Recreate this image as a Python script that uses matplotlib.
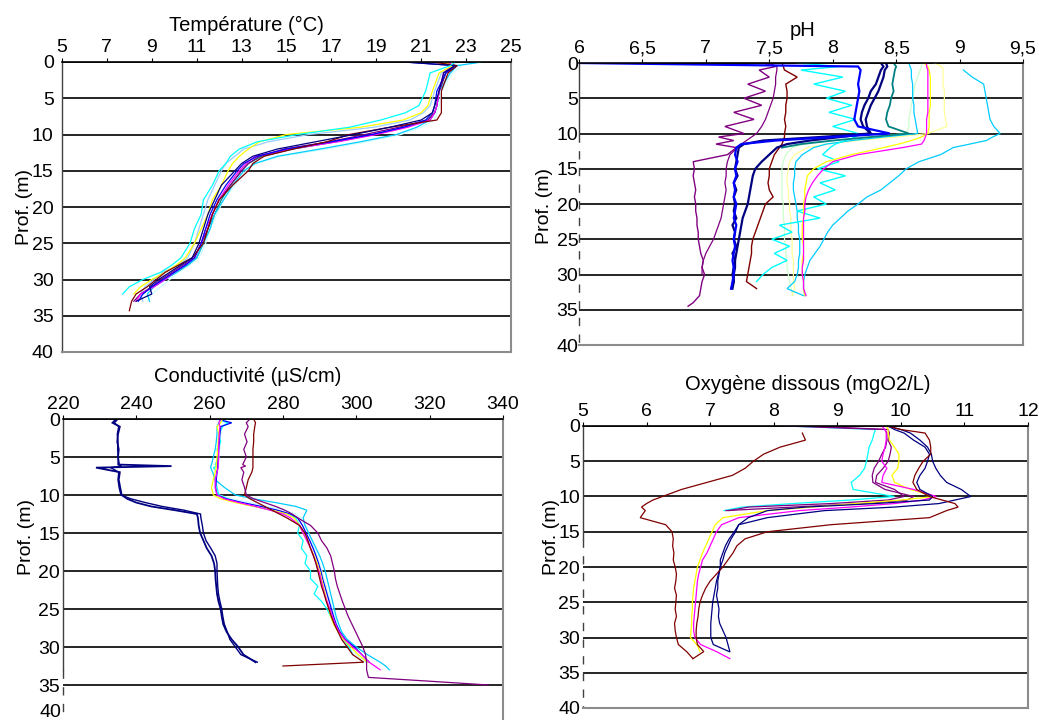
import numpy as np
import matplotlib
matplotlib.use('Agg')
import matplotlib.pyplot as plt
from matplotlib.ticker import FuncFormatter

nan = np.nan

# ---------------- Temperature (°C) ----------------
TEMP_DEPTH = [0, 0.5, 1.5, 4, 6, 7, 8, 9, 10, 11, 12, 13, 14, 15,
              17, 19, 21, 23, 25, 27, 28, 29, 30, 31, 32, 33, 34.3]
TEMP_TICKS = [5, 7, 9, 11, 13, 15, 17, 19, 21, 23, 25]

T_NAVY = [20.3, 22.5, 22.0, 21.8, 21.6, 21.5, 21.0, 19.6, 18.0, 16.3, 14.6, 13.5, 13.0, 12.7,
          12.1, 11.8, 11.5, 11.3, 11.1, 10.8, 10.3, 9.8, 9.3, 8.9, 9.0, 8.3]
T_MAROON = [21.5, 22.6, 22.2, 21.9, 21.9, 21.9, 21.7, 19.6, 17.8, 16.8, 15.3, 14.0, 13.5, 13.3,
            12.6, 12.0, 11.7, 11.5, 11.3, 10.8, 10.2, 9.6, 9.2, 8.8, 8.3, 8.1, 8.0]
T_CYAN = [22.5, 22.3, 21.4, 21.2, 20.9, 20.3, 19.2, 17.8, 15.5, 13.7, 12.9, 12.5, 12.3, 12.0,
          11.7, 11.3, 11.2, 10.9, 10.7, 10.3, 9.9, 9.4, 8.6, 8.0, 7.7]
T_YELLOW = [22.0, 22.4, 21.8, 21.5, 21.3, 21.0, 20.2, 18.3, 15.0, 13.8, 13.3, 12.9, 12.6, 12.4,
            12.1, 11.7, 11.5, 11.2, 10.9, 10.5, 10.1, 9.6, 9.0, 8.5, 8.2]
T_LIGHTBLUE = [21.8, 22.5, 21.9, 21.6, 21.4, 21.1, 20.5, 18.9, 16.0, 14.2, 13.1, 12.7, 12.3, 12.1,
               11.8, 11.5, 11.3, 11.1, 10.9, 10.6, 10.2, 9.5, 9.1, 8.7, 8.5, 8.6]
T_BLUE = [20.2, 22.6, 22.1, 21.7, 21.6, 21.5, 21.2, 20.2, 18.8, 17.0, 15.0, 13.7, 13.1, 12.8,
          12.3, 11.9, 11.6, 11.4, 11.2, 10.9, 10.5, 10.0, 9.5, 9.0, 8.6, 8.4]
T_MAGENTA = [22.2, 22.4, 22.0, 21.8, 21.7, 21.6, 21.4, 20.4, 19.0, 17.3, 15.2, 13.6, 13.2, 12.9,
             12.4, 12.0, 11.7, 11.4, 11.2, 10.9, 10.5, 10.0, 9.6, 9.1, 8.5, 8.3]
T_PURPLE = [22.0, 22.5, 22.1, 21.8, 21.7, 21.6, 21.3, 20.0, 18.5, 16.9, 14.9, 13.8, 13.3, 13.0,
            12.5, 12.0, 11.7, 11.5, 11.2, 10.9, 10.4, 9.9, 9.4, 9.0, 8.5, 8.2]
T_TEAL = [21.9, 22.4, 22.1, 21.8, 21.7, 21.6, 21.3, 20.3, 18.9, 17.2, 15.3, 13.9, 13.3, 13.0,
          12.5, 12.1, 11.8, 11.5, 11.3, 11.0, 10.6, 10.1, 9.5, 9.0, 8.6]
T_SKYBLUE = [23.7, 22.6, 22.3, 21.8, 21.7, 21.6, 21.4, 20.8, 19.9, 18.3, 16.5, 14.6, 13.6, 13.1,
             12.6, 12.2, 11.8, 11.6, 11.3, 11.0, 10.6, 10.1, 9.6, 9.1, 8.8, 8.9]
T_LIGHTCYAN = [22.3, 22.8, 22.4, 21.9, 21.8, 21.7, 21.6, 21.0, 20.1, 18.6, 16.8, 14.8, 13.6, 13.2,
               12.7, 12.2, 11.9, 11.6, 11.4, 11.1, 10.7, 10.2, 9.8, 9.4, 9.0, 8.8]

# ---------------- pH ----------------
PH_DEPTH = [0, 0.5, 1, 2, 3, 4, 5,
            6, 7, 8, 9, 10,
            10.5, 11, 11.5, 12,
            13, 14, 15, 16, 17, 18, 19, 20,
            21, 22, 23, 24, 25, 26, 27, 28, 29, 30,
            31, 32, 33, 34, 34.5]
PH_TICKS = [6, 6.5, 7, 7.5, 8, 8.5, 9, 9.5]

PH_PURPLE_NOISY = [7.45, 7.55, 7.42, 7.5, 7.33, 7.47, 7.3,
                   7.44, 7.22, 7.38, 7.15, 7.3,
                   7.1, 7.22, 7.08, 7.24,
                   7.17, 6.9, 6.91, 6.9, 6.91, 6.92, 6.91, 6.92,
                   6.92, 6.93, 6.93, 6.94, 6.94, 6.95, 6.96, 6.98, 6.97, 6.99,
                   6.97, 6.96, 6.95, 6.9, 6.86]
PH_PURPLE = [7.5, 7.56, 7.56, 7.55, 7.55, 7.54, 7.53,
             7.51, 7.49, 7.47, 7.44, 7.4,
             7.36, 7.32, 7.28, 7.25,
             7.19, 7.17, 7.16, 7.16, 7.15, 7.16, 7.15, 7.14,
             7.13, 7.12, 7.1, 7.08, 7.06, 7.03, 7.0, 6.98, 6.97, 6.97]
PH_MAROON = [7.6, 7.61, 7.62, 7.72, 7.63, 7.64, 7.64,
             7.63, 7.63, 7.62, 7.63, 7.62,
             7.62, 7.61, 7.6, 7.58,
             7.54, 7.52, 7.5, 7.5, 7.49, 7.5, 7.53, 7.47,
             7.45, 7.43, 7.41, 7.39, 7.37, 7.36, 7.36, 7.35, 7.34, 7.33,
             7.32, 7.4]
PH_NAVY = [8.38, 8.4, 8.38, 8.36, 8.34, 8.3, 8.28,
           8.25, 8.23, 8.22, 8.24, 8.3,
           7.9, 7.45, 7.3, 7.26,
           7.25, 7.24, 7.23, 7.25, 7.22, 7.24, 7.22, 7.23,
           7.22, 7.24, 7.21, 7.23, 7.22, 7.24, 7.21, 7.23, 7.22, 7.21,
           7.22, 7.2]
PH_NAVY_2 = [8.42, 8.43, 8.41, 8.4, 8.38, 8.36, 8.33,
             8.3, 8.28, 8.26, 8.27, 8.3,
             8.06, 7.82, 7.64, 7.56,
             7.5, 7.44, 7.39, 7.37, 7.36, 7.35, 7.34, 7.33,
             7.31, 7.29, 7.28, 7.27, 7.26, 7.25, 7.24, 7.23, 7.23, 7.22,
             7.22, 7.21]
PH_BLUE = [6.0, 8.2, 8.22, 8.21, 8.2, 8.21, 8.2,
           8.19, 8.18, 8.17, 8.2, 8.45,
           8.0, 7.55, 7.28, 7.24,
           7.23, 7.25, 7.23, 7.24, 7.22, 7.23, 7.22, 7.24,
           7.23, 7.22, 7.24, 7.23, 7.22, 7.23, 7.22, 7.21, 7.22, 7.22,
           7.21, 7.2]
PH_CYAN = [7.72, 8.05, 7.75, 8.08, 7.85, 8.1, 7.95,
           8.15, 7.97, 8.18, 8.0, 8.2,
           8.18, 8.1, 8.02, 7.98,
           7.92, 8.05, 7.88, 8.1, 7.9, 8.02, 7.85, 7.95,
           7.72, 7.9, 7.58, 7.68, 7.52, 7.66, 7.54, 7.64, 7.52, 7.45,
           7.4]
PH_SKYBLUE = [nan, nan, 9.03, 9.1, 9.19, 9.2, 9.21,
              9.22, 9.23, 9.24, 9.27, 9.32,
              9.26, 9.21, 9.08, 8.95,
              8.85, 8.68, 8.58, 8.52, 8.45, 8.38, 8.27, 8.2,
              8.12, 8.06, 8.0, 7.96, 7.93, 7.9, 7.86, 7.82, 7.8, 7.78,
              7.77, 7.77, 7.78]
PH_SKYBLUE_2 = [8.6, 8.61, 8.62, 8.62, 8.63, 8.63, 8.63,
                8.64, 8.64, 8.65, 8.66, 8.67,
                8.4, 8.15, 7.95, 7.85,
                7.76, 7.71, 7.7, 7.7, 7.69, 7.69, 7.7, 7.71,
                7.72, 7.72, 7.73, 7.73, 7.74, 7.74, 7.74, 7.73, 7.73, 7.72,
                7.7, 7.64, 7.77]
PH_TEAL = [8.48, 8.5, 8.49, 8.48, 8.47, 8.48, 8.46,
           8.45, 8.43, 8.42, 8.44, 8.6,
           8.3, 8.0, 7.75, 7.6]
PH_LIGHTGREEN = [8.7, 8.7, 8.69, 8.67, 8.65, 8.64, 8.63,
                 8.62, 8.61, 8.6, 8.6, 8.58,
                 8.3, 8.0, 7.78, 7.68,
                 7.63, 7.61, 7.6, 7.6, 7.6, 7.6, 7.6, 7.61,
                 7.61, 7.61, 7.62, 7.62, 7.62, 7.63, 7.63, 7.64, 7.64, 7.65,
                 7.66, 7.67, 7.69]
PH_PALEYELLOW = [8.8, 8.86, 8.87, 8.87, 8.87, 8.88, 8.88,
                 8.88, 8.88, 8.89, 8.9, 8.75,
                 8.5, 8.2, 7.95, 7.8,
                 7.7, 7.66, 7.65, 7.64, 7.64, 7.65, 7.65, 7.66,
                 7.66, 7.67, 7.67, 7.67, 7.68, 7.68, 7.68, 7.69, 7.69, 7.69,
                 7.69, 7.7, 7.68]
PH_YELLOW = [8.72, 8.75, 8.76, 8.77, 8.77, 8.77, 8.77,
             8.77, 8.76, 8.76, 8.76, 8.75,
             8.7, 8.62, 8.52, 8.4,
             8.15, 7.95, 7.85, 7.8, 7.79, 7.78, 7.78, 7.77,
             7.77, 7.77, 7.76, 7.76, 7.76, 7.77, 7.77, 7.76, 7.76, 7.76,
             7.77, 7.77, 7.78]
PH_MAGENTA = [8.74, 8.74, 8.75, 8.75, 8.75, 8.75, 8.75,
              8.75, 8.75, 8.74, 8.74, 8.74,
              8.73, 8.72, 8.7, 8.55,
              8.2, 8.0, 7.93, 7.88, 7.84, 7.81, 7.79, 7.78,
              7.78, 7.77, 7.77, 7.77, 7.77, 7.77, 7.77, 7.77, 7.76, 7.76,
              7.77, 7.77, 7.79]

# ---------------- Conductivité (µS/cm) ----------------
COND_DEPTH = [0, 0.5, 1, 2, 3, 4, 5,
              6, 6.2, 6.4, 7, 8, 9, 10,
              10.5, 11, 11.5, 12, 12.5, 13,
              14, 15, 16, 17, 18, 19, 20,
              21, 22, 23, 24, 25, 26, 27, 28, 29, 30,
              31, 32, 32.5, 33, 34, 34.5, 35]
COND_TICKS = [220, 240, 260, 280, 300, 320, 340]

C_NAVY = [234.5, 233.5, 235.5, 235.0, 234.8, 235.2, 235.0,
          235.3, 249.6, 229.0, 235.5, 235.2, 235.6, 236.0,
          237.5, 240.0, 244.0, 250.5, 256.5, 256.8,
          257.0, 257.4, 258.3, 259.2, 260.5, 261.2, 261.5,
          261.6, 261.8, 262.0, 262.4, 263.0, 263.3, 263.7, 264.6, 266.0, 267.8,
          269.2, 272.5]
C_NAVY_2 = [235.0, 234.0, 235.2, 234.8, 235.0, 234.9, 235.1,
            235.0, 236.0, 233.0, 235.2, 235.0, 235.3, 235.8,
            238.5, 242.5, 247.0, 253.0, 257.5, 257.6,
            258.0, 258.3, 259.0, 260.3, 261.5, 262.0, 262.0,
            262.1, 262.2, 262.4, 262.8, 263.3, 263.6, 264.0, 264.8, 265.5, 267.0,
            268.5, 273.0]
C_MAROON = [272.0, 272.5, 272.3, 272.0, 272.0, 271.8, 271.8,
            271.8, 271.8, 271.8, 271.5, 270.5, 270.0, 269.5,
            271.0, 273.0, 275.0, 277.0, 279.0, 281.0,
            284.5, 286.0, 286.8, 287.5, 288.3, 289.0, 289.5,
            290.0, 290.5, 291.2, 291.8, 292.5, 293.2, 294.0, 295.0, 296.0, 297.5,
            299.0, 302.0, 280.0]
C_PURPLE = [271.0, 270.0, 270.5, 269.5, 270.2, 269.3, 270.0,
            269.0, 269.8, 268.5, 269.3, 268.8, 269.5, 270.0,
            272.0, 275.0, 278.0, 280.5, 282.5, 284.0,
            287.5, 289.5, 290.5, 292.0, 293.0, 293.5, 294.0,
            294.3, 294.8, 295.5, 296.2, 297.0, 297.8, 298.8, 299.8, 300.8, 301.8,
            302.5, 302.8, 302.8, 302.8, 303.3, 320.0, 336.0]
C_CYAN = [262.0, 265.0, 263.5, 262.5, 263.0, 262.0, 262.5,
          261.5, 262.0, 261.0, 262.0, 261.5, 262.0, 262.5,
          265.0, 268.0, 272.0, 277.0, 281.0, 283.5,
          284.5, 284.0, 285.5, 285.0, 286.5, 286.0, 287.5,
          287.5, 289.5, 288.5, 290.5, 292.0, 293.0, 294.0, 295.5, 296.5, 298.0,
          299.0]
C_YELLOW = [263.5, 263.0, 262.0, 262.5, 262.3, 262.2, 262.0,
            261.8, 261.8, 261.8, 261.5, 261.0, 260.5, 261.0,
            263.0, 267.0, 272.0, 277.0, 281.0, 283.0,
            284.5, 285.5, 286.5, 287.5, 288.5, 289.3, 290.0,
            290.5, 291.0, 291.5, 292.0, 292.5, 293.0, 293.8, 295.0, 296.5, 298.5,
            300.5, 303.0]
C_MAGENTA = [263.0, 262.5, 262.8, 262.6, 262.5, 262.4, 262.5,
             262.3, 262.3, 262.3, 262.0, 261.5, 261.5, 262.0,
             264.0, 268.0, 272.5, 276.5, 280.0, 282.0,
             284.5, 285.5, 286.5, 287.5, 288.3, 289.0, 289.8,
             290.3, 290.8, 291.3, 292.0, 292.8, 293.5, 294.3, 295.3, 296.8, 299.0,
             301.5, 303.5, 305.0, 306.5]
C_SKYBLUE = [263.0, 262.5, 262.0, 262.0, 261.8, 261.5, 261.0,
             260.5, 260.3, 260.3, 260.8, 261.5, 264.0, 267.0,
             272.0, 278.0, 283.5, 286.5, 286.0, 285.5,
             286.0, 287.0, 288.0, 289.0, 290.0, 290.8, 291.5,
             292.0, 292.5, 293.0, 293.5, 294.0, 294.5, 295.2, 296.0, 297.5, 300.0,
             303.0, 306.5, 308.0, 309.0]
C_LIGHTCYAN = [265.0, 264.0, 263.5, 263.0, 263.0, 262.8, 262.5,
               262.5, 262.5, 262.5, 262.0, 261.5, 261.5, 262.5,
               266.0, 271.0, 276.0, 280.5, 283.5, 285.0,
               286.0, 287.0, 287.8, 288.5, 289.3, 290.0, 290.6,
               291.2, 291.8, 292.4, 293.0, 293.6, 294.2, 294.8, 295.5, 296.5, 298.0,
               300.0, 302.5]
C_BLUE = [262.0, 266.0, 263.0, 262.8, 262.6, 262.5, 262.3,
          262.2, 262.2, 262.2, 262.0, 261.8, 261.6, 262.0,
          264.5, 269.0, 274.0, 278.5, 282.0, 284.0,
          285.3, 286.3, 287.3, 288.2, 289.0, 289.7, 290.3,
          290.8, 291.4, 292.0, 292.6, 293.2, 293.8, 294.5, 295.5, 297.0, 299.5,
          301.5, 303.5]

# ---------------- Oxygène dissous (mgO2/L) ----------------
OX_DEPTH = [0, 0.5, 1, 2, 3, 4, 5,
            6, 7, 8, 9, 10,
            10.5, 11, 11.5, 12,
            13, 14, 15, 16, 17, 18, 19, 20,
            21, 22, 23, 24, 25, 26, 27, 28, 29, 30,
            31, 32, 33]
OX_TICKS = [5, 6, 7, 8, 9, 10, 11, 12]

O_MAROON = [nan, nan, 8.45, 8.5, 8.1, 7.84, 7.68,
            7.55, 7.35, 6.95, 6.55, 6.25,
            6.1, 6.0, 5.92, 5.98,
            5.9, 6.3, 6.4, 6.42, 6.41, 6.43, 6.42, 6.45,
            6.47, 6.46, 6.44, 6.47, 6.46, 6.45, 6.47, 6.44, 6.45, 6.47,
            6.5, 6.63, 6.73]
O_MAROON_2 = [9.8, 10.0, 10.38, 10.45, 10.47, 10.47, 10.35,
              10.28, 10.22, 10.19, 10.25, 10.45,
              10.65, 10.85, 10.9, 10.72,
              10.45, 8.9, 7.9, 7.55, 7.42, 7.36, 7.28, 7.2,
              7.1, 7.0, 6.93, 6.88, 6.84, 6.82, 6.81, 6.79, 6.78, 6.78,
              6.8, 6.9, 6.73]
O_NAVY = [9.77, 10.0, 10.15, 10.3, 10.42, 10.48, 10.5,
          10.55, 10.62, 10.72, 10.95, 11.1,
          10.85, 10.6, 9.9, 8.8,
          7.9, 7.45, 7.38, 7.3, 7.24, 7.2, 7.16, 7.16,
          7.14, 7.12, 7.12, 7.1, 7.12, 7.14, 7.13, 7.15, 7.2, 7.25,
          7.28, 7.31]
O_NAVY_2 = [9.8, 9.9, 10.05, 10.2, 10.38, 10.45, 10.42,
            10.38, 10.3, 10.25, 10.3, 10.5,
            10.45, 9.6, 8.5, 7.9,
            7.6, 7.45, 7.4, 7.33, 7.28, 7.23, 7.2, 7.16,
            7.13, 7.1, 7.08, 7.06, 7.04, 7.03, 7.02, 7.01, 7.01, 7.01,
            7.05, 7.3]
O_PURPLE = [8.2, 9.75, 9.78, 9.78, 9.76, 9.7, 9.65,
            9.58, 9.55, 9.56, 9.75, 10.2,
            10.1, 9.4, 8.3, 7.25]
O_PURPLE_2 = [8.5, 9.8, 9.82, 9.8, 9.85, 9.83, 9.8,
              9.72, 9.62, 9.6, 9.9, 10.05,
              9.8, 8.9, 7.6, 7.3]
O_CYAN = [8.2, 9.6, 9.58, 9.55, 9.5, 9.48, 9.46,
          9.43, 9.35, 9.22, 9.25, 9.9,
          9.2, 8.3, 7.5, 7.22]
O_YELLOW = [9.77, 9.8, 9.8, 9.82, 9.9, 9.97, 9.97,
            9.95, 9.86, 9.9, 10.15, 10.53,
            10.0, 9.3, 8.6, 7.9,
            7.2, 7.08, 7.03, 6.98, 6.93, 6.88, 6.84, 6.8,
            6.78, 6.76, 6.74, 6.73, 6.72, 6.72, 6.71, 6.71, 6.7, 6.69,
            6.79, 6.84]
O_MAGENTA = [9.7, 9.75, 9.77, 9.77, 9.75, 9.72, 9.7,
             9.78, 9.72, 9.7, 10.2, 10.56,
             10.35, 9.9, 9.2, 8.4,
             7.45, 7.18, 7.1, 7.05, 7.0, 6.95, 6.88, 6.85,
             6.82, 6.8, 6.79, 6.78, 6.77, 6.76, 6.75, 6.74, 6.74, 6.76,
             6.85, 7.1, 7.31]

# series styles: (values, colour, linewidth)
TEMP_SERIES = [(T_LIGHTCYAN, '#CCFFFF', 0.9), (T_LIGHTBLUE, '#99CCFF', 0.9),
               (T_TEAL, '#008080', 0.9), (T_SKYBLUE, '#00CCFF', 0.9),
               (T_PURPLE, '#800080', 0.9), (T_MAGENTA, '#FF00FF', 0.9),
               (T_BLUE, '#0000FF', 0.9), (T_YELLOW, '#FFFF00', 0.9),
               (T_MAROON, '#800000', 0.9), (T_NAVY, '#000080', 0.9),
               (T_CYAN, '#00FFFF', 0.9)]
PH_SERIES = [(PH_LIGHTGREEN, '#CCFFCC', 0.9), (PH_PALEYELLOW, '#FFFF99', 0.9),
             (PH_SKYBLUE_2, '#00CCFF', 0.9), (PH_SKYBLUE, '#00CCFF', 0.9),
             (PH_CYAN, '#00FFFF', 1.0), (PH_YELLOW, '#FFFF00', 0.9),
             (PH_MAGENTA, '#FF00FF', 0.9), (PH_TEAL, '#008080', 1.3),
             (PH_PURPLE, '#800080', 0.9), (PH_PURPLE_NOISY, '#800080', 1.0),
             (PH_MAROON, '#800000', 1.0), (PH_NAVY_2, '#000080', 1.6),
             (PH_NAVY, '#000080', 1.6), (PH_BLUE, '#0000FF', 1.6)]
COND_SERIES = [(C_LIGHTCYAN, '#CCFFFF', 0.9), (C_SKYBLUE, '#00CCFF', 0.9),
               (C_CYAN, '#00FFFF', 0.9), (C_BLUE, '#0000FF', 0.9),
               (C_YELLOW, '#FFFF00', 0.9), (C_MAGENTA, '#FF00FF', 0.9),
               (C_MAROON, '#800000', 0.9), (C_PURPLE, '#800080', 0.9),
               (C_NAVY_2, '#000080', 1.0), (C_NAVY, '#000080', 1.3)]
OX_SERIES = [(O_CYAN, '#00FFFF', 0.9), (O_PURPLE_2, '#800080', 0.9),
             (O_PURPLE, '#800080', 0.9), (O_YELLOW, '#FFFF00', 0.9),
             (O_MAGENTA, '#FF00FF', 0.9), (O_NAVY_2, '#000080', 0.9),
             (O_NAVY, '#000080', 0.9), (O_MAROON_2, '#800000', 0.9),
             (O_MAROON, '#800000', 0.9)]

plt.rcParams['font.family'] = ['Liberation Sans', 'DejaVu Sans']
FS = 14
TITLE_FS = 14.5

W, H = 1039, 720
fig = plt.figure(figsize=(W / 100, H / 100), dpi=100)
fig.patch.set_facecolor('white')


def px_axes(left, top, right, bottom):
    return fig.add_axes([left / W, 1 - bottom / H, (right - left) / W, (bottom - top) / H])


def comma_fmt(v, pos):
    return ('%g' % v).replace('.', ',')


def profile_panel(ax, depth, series, xlim, xticks, ypad, ylab_xy, solid_to, fmt=None,
                  yticks=range(0, 45, 5)):
    for values, color, lw in series:
        ax.plot(values, depth[:len(values)], color=color, lw=lw, solid_joinstyle='miter')
    ax.set_xlim(*xlim)
    ax.set_ylim(40, 0)
    ax.set_xticks(xticks)
    ax.set_yticks(list(yticks))
    if fmt is not None:
        ax.xaxis.set_major_formatter(FuncFormatter(fmt))
    ax.xaxis.tick_top()
    ax.tick_params(axis='x', direction='out', length=3, width=0.8, pad=1, labelsize=FS)
    ax.tick_params(axis='y', length=0, pad=ypad, labelsize=FS)
    ax.grid(axis='y', color='black', lw=1.2)
    ax.grid(axis='x', visible=False)
    ax.spines['top'].set_color('black')
    ax.spines['top'].set_linewidth(1.2)
    for s in ('right', 'bottom'):
        ax.spines[s].set_color('#8c8c8c')
        ax.spines[s].set_linewidth(1.5)
    ax.spines['left'].set_visible(False)
    ytr = ax.get_yaxis_transform()
    ax.plot([0, 0], [0, solid_to], transform=ytr, color='#404040', lw=1.0, clip_on=False)
    if solid_to < 40:
        ax.plot([0, 0], [solid_to, 40], transform=ytr, color='#404040', lw=1.0,
                ls=(0, (6, 6)), clip_on=False)
    ax.set_ylabel('Prof. (m)', fontsize=FS)
    ax.yaxis.set_label_coords(*ylab_xy)


ax_t = px_axes(62, 62, 511, 352)
profile_panel(ax_t, TEMP_DEPTH, TEMP_SERIES, (5, 25), TEMP_TICKS, 6.0, (-0.064, 0.5), 40)

ax_p = px_axes(579, 63, 1023, 345)
profile_panel(ax_p, PH_DEPTH, PH_SERIES, (6, 9.5), PH_TICKS, 0.5, (-0.058, 0.493), 10,
              fmt=comma_fmt)

# the conductivity panel runs past the bottom edge of the picture; its "40" label sits higher
ax_c = px_axes(63, 419, 503, 723)
profile_panel(ax_c, COND_DEPTH, COND_SERIES, (220, 340), COND_TICKS, 2, (-0.063, 0.612), 33,
              yticks=range(0, 40, 5))
ax_c.axhline(40, color='black', lw=1.2)
ax_c.annotate('40', xy=(0, 40), xycoords=ax_c.get_yaxis_transform(), xytext=(-1.5, 7.5),
              textcoords='offset points', ha='right', va='center', fontsize=FS)

ax_o = px_axes(583, 426, 1028, 708)
profile_panel(ax_o, OX_DEPTH, OX_SERIES, (5, 12), OX_TICKS, 2, (-0.051, 0.606), 16)

fig.text(246 / W, 1 - 25 / H, 'Température (°C)', ha='center', va='center', fontsize=TITLE_FS)
fig.text(803 / W, 1 - 30 / H, 'pH', ha='center', va='center', fontsize=TITLE_FS)
fig.text(248 / W, 1 - 376 / H, 'Conductivité (µS/cm)', ha='center', va='center', fontsize=TITLE_FS)
fig.text(808 / W, 1 - 384 / H, 'Oxygène dissous (mgO2/L)', ha='center', va='center',
         fontsize=TITLE_FS)

fig.savefig('out.png', dpi=100, facecolor='white')
